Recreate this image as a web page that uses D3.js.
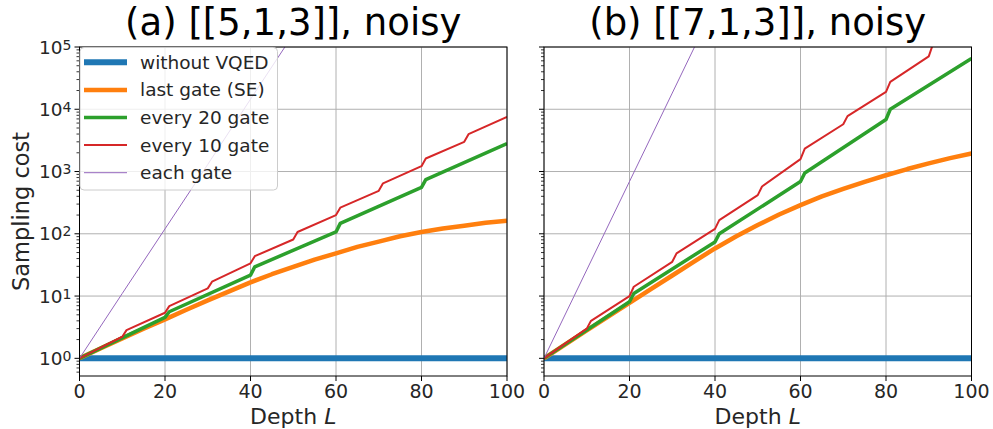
<!DOCTYPE html>
<html><head><meta charset="utf-8">
<script src="https://cdn.jsdelivr.net/npm/d3@7"></script>
<style>body{margin:0;background:#fff}svg{display:block}</style>
</head><body>
<script>
// ---------- data ----------
const panelTitles = ["(a) [[5,1,3]], noisy", "(b) [[7,1,3]], noisy"];
const seriesNames = ["without VQED", "last gate (SE)", "every 20 gate", "every 10 gate", "each gate"];
const seriesColors = ["#1f77b4", "#ff7f0e", "#2ca02c", "#d62728", "#9467bd"];
const xTicks = [0, 20, 40, 60, 80, 100];
const yTickExps = [0, 1, 2, 3, 4, 5];

const baselineL = [0, 100];
const baselineA = [1, 1];
const baselineB = [1, 1];

const lastGateL = [0,5,10,15,20,25,30,35,40,45,50,55,60,65,70,75,80,85,90,95,100];
const lastGateA = [1,1.45,2.09,2.99,4.23,6.03,8.51,11.9,16.6,22.4,29.5,38.5,48.4,61.7,75,91.2,107,122,135,150,162];
const lastGateB = [1,1.68,2.82,4.68,7.76,12.9,21.4,35.5,58.2,91.2,138,204,288,398,525,684,871,1096,1349,1641,1950];

const every20L = [0,20,21,40,41,60,61,80,81,100];
const every20A = [1,4.55,5.6,21.7,29.5,107,147,556,741,2820];
const every20B = [1,8.1,11,74,100,690,950,6850,10000,65300];

const every10L = [0,10,11,20,21,30,31,40,41,50,51,60,61,70,71,80,81,90,91,100];
const every10A = [1,2.22,2.84,5.4,6.9,13.3,17,33.5,43.7,81,107,200,263,490,646,1220,1620,3000,3980,7550];
const every10B = [1,3.0,4.0,10,14.1,35.5,48.4,120,166,417,575,1580,2340,5750,7760,19000,27500,70800,112000,282000];

const eachGateLA = [0,10,20,30,40,50];
const eachGateA = [1,11,120,1300,14500,160000];
const eachGateLB = [0,10,20,30,40];
const eachGateB = [1,26.3,692,18200,479000];

const panels = [
  {title: panelTitles[0], series: [[baselineL, baselineA],[lastGateL, lastGateA],[every20L, every20A],[every10L, every10A],[eachGateLA, eachGateA]]},
  {title: panelTitles[1], series: [[baselineL, baselineB],[lastGateL, lastGateB],[every20L, every20B],[every10L, every10B],[eachGateLB, eachGateB]]}
];
const lineWidths = [6, 4.5, 3.5, 2, 1];

// ---------- layout ----------
const W = 993, H = 429;
const FONT = "DejaVu Sans";
const panelX = [[79.5, 507], [544, 971.5]];
const yTop = 47, yBot = 376;

const svg = d3.select("body").append("svg").attr("width", W).attr("height", H)
  .attr("font-family", FONT);

const y = d3.scaleLog().domain([0.52, 1e5]).range([yBot, yTop]);
const minorVals = [];
for (let e = -1; e <= 4; e++) for (let m = 2; m <= 9; m++) {
  const v = m * Math.pow(10, e);
  if (v >= 0.52 && v <= 1e5) minorVals.push(v);
}

panels.forEach((p, i) => {
  const [x0, x1] = panelX[i];
  const x = d3.scaleLinear().domain([0, 100]).range([x0, x1]);
  const g = svg.append("g");
  const cid = "clip" + i;
  svg.append("clipPath").attr("id", cid).append("rect")
    .attr("x", x0).attr("y", yTop).attr("width", x1 - x0).attr("height", yBot - yTop);

  // grid
  g.selectAll(".gx").data(xTicks).join("line")
    .attr("x1", d => x(d)).attr("x2", d => x(d)).attr("y1", yTop).attr("y2", yBot)
    .attr("stroke", "#b0b0b0").attr("stroke-width", 1);
  g.selectAll(".gy").data(yTickExps).join("line")
    .attr("x1", x0).attr("x2", x1).attr("y1", d => y(Math.pow(10, d))).attr("y2", d => y(Math.pow(10, d)))
    .attr("stroke", "#b0b0b0").attr("stroke-width", 1);

  // lines
  const lg = g.append("g").attr("clip-path", `url(#${cid})`);
  p.series.forEach((s, k) => {
    const pts = s[0].map((L, j) => [L, s[1][j]]);
    lg.append("path").datum(pts)
      .attr("d", d3.line().x(d => x(d[0])).y(d => y(d[1])))
      .attr("fill", "none").attr("stroke", seriesColors[k])
      .attr("stroke-width", lineWidths[k]).attr("stroke-linejoin", "round");
  });

  // spines
  g.append("rect").attr("x", x0).attr("y", yTop).attr("width", x1 - x0).attr("height", yBot - yTop)
    .attr("fill", "none").attr("stroke", "#000").attr("stroke-width", 1);

  // x axis ticks
  g.selectAll(".tx").data(xTicks).join("line")
    .attr("x1", d => x(d)).attr("x2", d => x(d)).attr("y1", yBot).attr("y2", yBot + 5)
    .attr("stroke", "#000").attr("stroke-width", 1);
  g.selectAll(".tlx").data(xTicks).join("text")
    .attr("x", d => x(d)).attr("y", yBot + 22).attr("text-anchor", "middle")
    .attr("font-size", 19).attr("fill", "#262626").text(d => d);

  // y ticks
  g.selectAll(".ty").data(yTickExps).join("line")
    .attr("x1", x0 - 5).attr("x2", x0).attr("y1", d => y(Math.pow(10, d))).attr("y2", d => y(Math.pow(10, d)))
    .attr("stroke", "#000").attr("stroke-width", 1);
  g.selectAll(".tym").data(minorVals).join("line")
    .attr("x1", x0 - 3).attr("x2", x0).attr("y1", d => y(d)).attr("y2", d => y(d))
    .attr("stroke", "#000").attr("stroke-width", 0.8);

  if (i === 0) {
    g.selectAll(".tly").data(yTickExps).join("text")
      .attr("x", x0 - 17).attr("y", d => y(Math.pow(10, d)) + 6.5)
      .attr("text-anchor", "end").attr("font-size", 18.5).attr("fill", "#262626").text("10");
    g.selectAll(".tlys").data(yTickExps).join("text")
      .attr("x", x0 - 17).attr("y", d => y(Math.pow(10, d)) + 2.5)
      .attr("text-anchor", "start").attr("font-size", 14).attr("fill", "#262626").text(d => d);
    svg.append("text").attr("transform", `translate(29,${(yTop + yBot) / 2}) rotate(-90)`)
      .attr("text-anchor", "middle").attr("font-size", 22.5).attr("fill", "#262626").text("Sampling cost");
  }

  // x label
  const xl = svg.append("text").attr("x", (x0 + x1) / 2).attr("y", 424)
    .attr("text-anchor", "middle").attr("font-size", 22).attr("fill", "#262626");
  xl.append("tspan").text("Depth ");
  xl.append("tspan").attr("font-style", "italic").text("L");

  // title
  svg.append("text").attr("x", (x0 + x1) / 2).attr("y", 35)
    .attr("text-anchor", "middle").attr("font-size", 37).attr("fill", "#000").text(p.title);

  // legend
  if (i === 0) {
    const lgd = svg.append("g");
    lgd.append("rect").attr("x", x0 + 0.5).attr("y", yTop + 0.5).attr("width", 197.5).attr("height", 142.5)
      .attr("rx", 4).attr("fill", "#fff").attr("fill-opacity", 0.8)
      .attr("stroke", "#cccccc").attr("stroke-width", 1);
    seriesNames.forEach((n, k) => {
      const cy = 62.3 + k * 27.6;
      lgd.append("line").attr("x1", 84).attr("x2", 127).attr("y1", cy).attr("y2", cy)
        .attr("stroke", seriesColors[k]).attr("stroke-width", lineWidths[k]);
      lgd.append("text").attr("x", 140).attr("y", cy + 6.5).attr("font-size", 18.5)
        .attr("fill", "#262626").text(n);
    });
  }
});
</script>
</body></html>
